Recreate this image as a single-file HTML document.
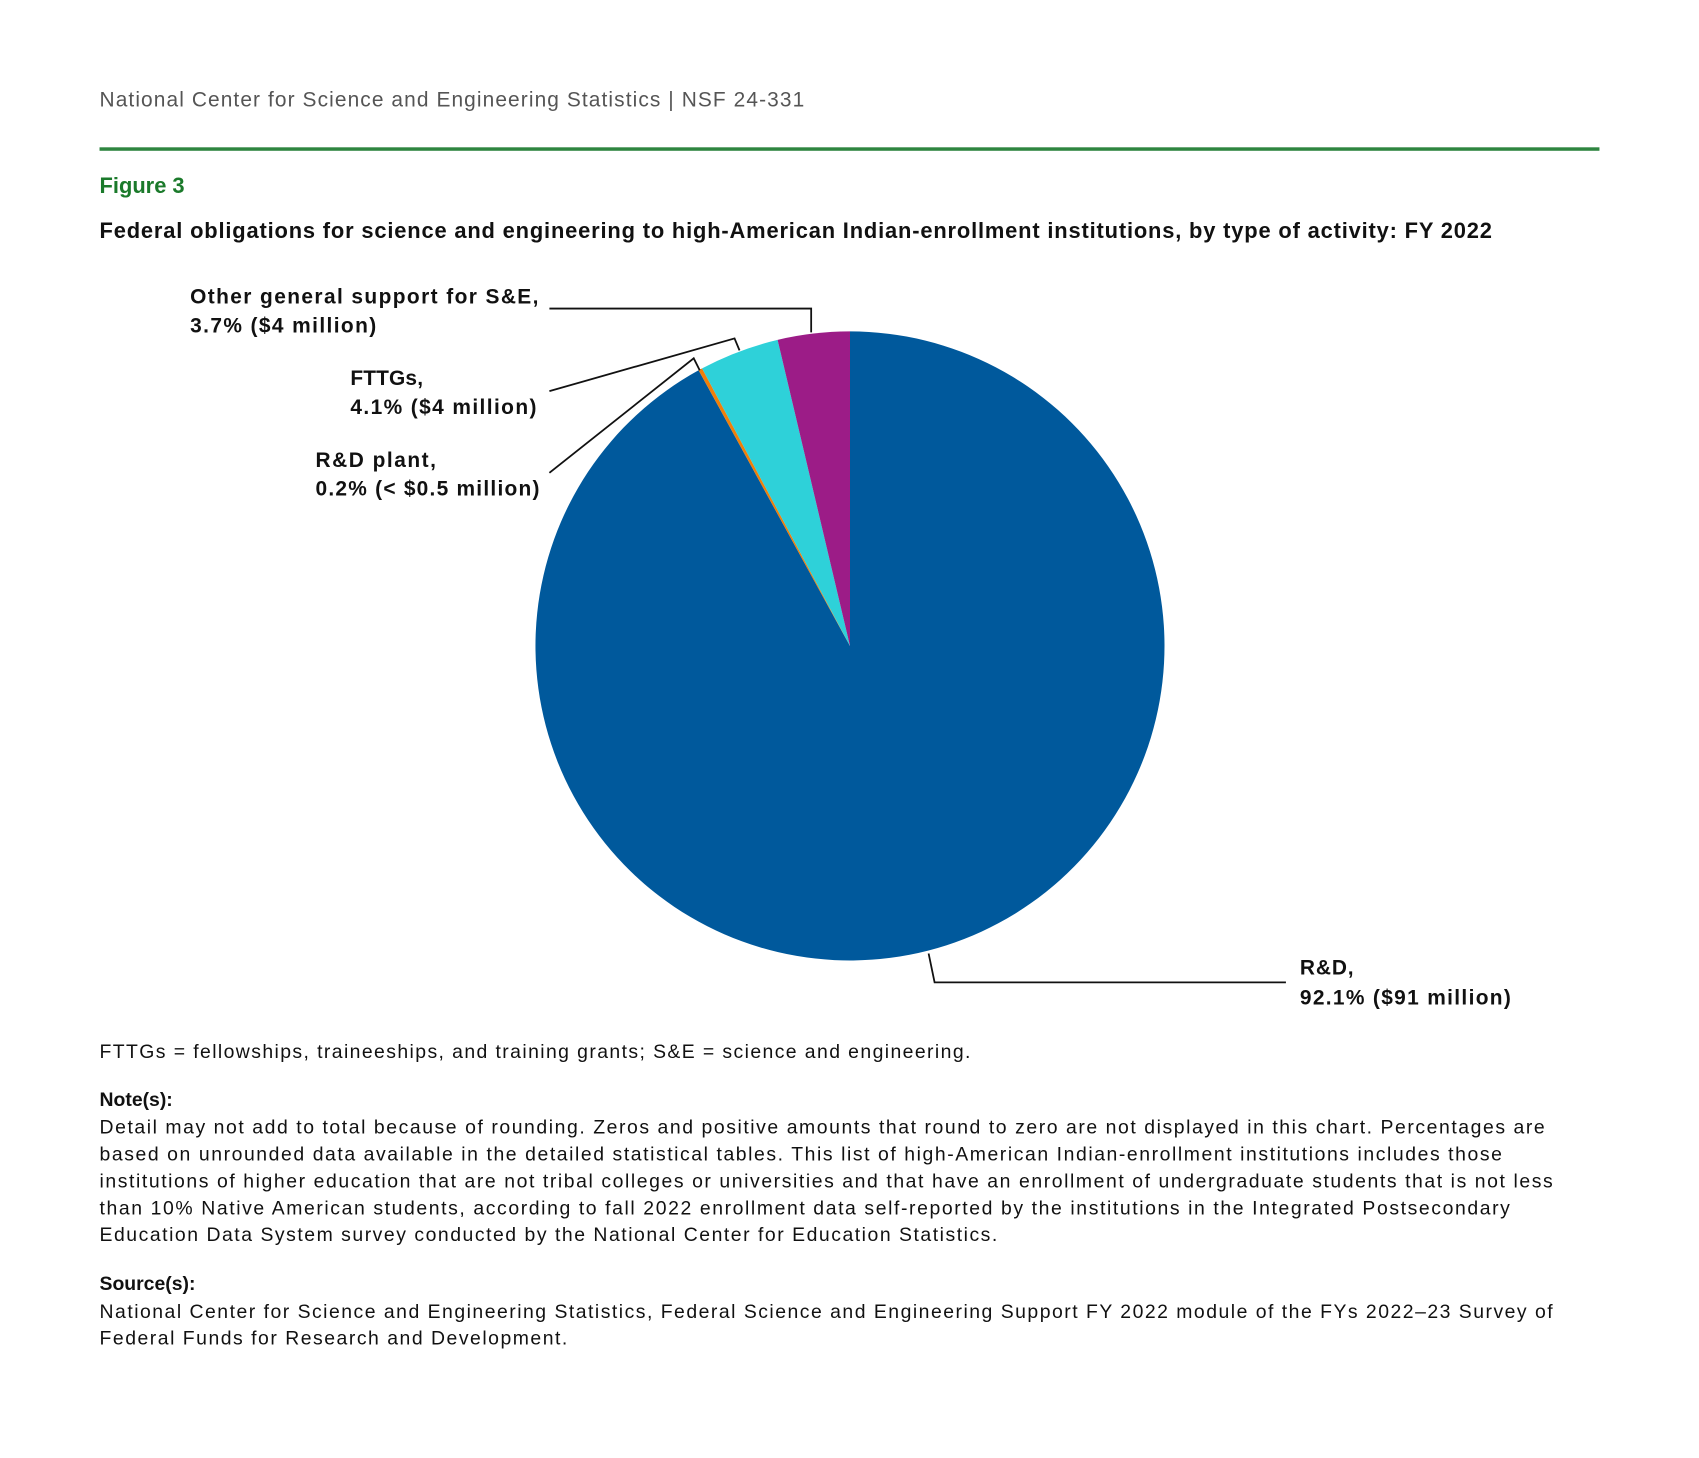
<!DOCTYPE html>
<html><head><meta charset="utf-8"><style>
html,body{margin:0;padding:0;background:#fff;}
svg{display:block;font-family:"Liberation Sans",Arial,sans-serif;}
</style></head><body>
<svg id="chart" width="1699" height="1458" viewBox="0 0 1699 1458">
<g transform="scale(0.9953)">
<text x="100" y="107" font-size="21" fill="#555" textLength="708">National Center for Science and Engineering Statistics  |  NSF 24-331</text>
<rect x="100" y="148" width="1507" height="3.5" fill="#2e8540"/>
<text x="100" y="194" font-size="22" font-weight="bold" fill="#1b7a2b">Figure 3</text>
<text x="100" y="239" font-size="22" font-weight="bold" fill="#111" textLength="1399">Federal obligations for science and engineering to high-American Indian-enrollment institutions, by type of activity: FY 2022</text>
<g id="pie"></g>
<g fill="none" stroke="#111" stroke-width="1.8">
<polyline points="552,310 815,310 815,334"/>
<polyline points="552,393 738,340 743,352"/>
<polyline points="552,475 697,360 703,372"/>
<polyline points="1292,987 939,987 933,958"/>
</g>
<g font-size="21" font-weight="bold" fill="#111">
<text x="191" y="305" textLength="350">Other general support for S&amp;E,</text>
<text x="191" y="334" textLength="187">3.7% ($4 million)</text>
<text x="352" y="387" textLength="73">FTTGs,</text>
<text x="352" y="416" textLength="187">4.1% ($4 million)</text>
<text x="317" y="469" textLength="121">R&amp;D plant,</text>
<text x="317" y="498" textLength="225">0.2% (&lt; $0.5 million)</text>
<text x="1306" y="979" textLength="54">R&amp;D,</text>
<text x="1306" y="1009" textLength="212">92.1% ($91 million)</text>
</g>
<g font-size="19.5" fill="#111">
<text x="100" y="1063" textLength="875">FTTGs = fellowships, traineeships, and training grants; S&amp;E = science and engineering.</text>
<text x="100" y="1111" font-weight="bold">Note(s):</text>
<text x="100" y="1139" textLength="1452">Detail may not add to total because of rounding. Zeros and positive amounts that round to zero are not displayed in this chart. Percentages are</text>
<text x="100" y="1166" textLength="1409">based on unrounded data available in the detailed statistical tables. This list of high-American Indian-enrollment institutions includes those</text>
<text x="100" y="1193" textLength="1460">institutions of higher education that are not tribal colleges or universities and that have an enrollment of undergraduate students that is not less</text>
<text x="100" y="1220" textLength="1417">than 10% Native American students, according to fall 2022 enrollment data self-reported by the institutions in the Integrated Postsecondary</text>
<text x="100" y="1247" textLength="902">Education Data System survey conducted by the National Center for Education Statistics.</text>
<text x="100" y="1296" font-weight="bold">Source(s):</text>
<text x="100" y="1324" textLength="1460">National Center for Science and Engineering Statistics, Federal Science and Engineering Support FY 2022 module of the FYs 2022–23 Survey of</text>
<text x="100" y="1351" textLength="470">Federal Funds for Research and Development.</text>
</g>
</g>
</svg>
<script>
const categories = ["R&D", "R&D plant", "FTTGs", "Other general support for S&E"];
const values = [92.1, 0.2, 4.1, 3.7];
const colors = ["#00599c", "#f07f09", "#2ed1d9", "#9c1c87"];
const slugs = ["slice-rd", "slice-rd-plant", "slice-fttgs", "slice-other"];
const cx = 854, cy = 649, r = 316;
const total = values.reduce((a, b) => a + b, 0);
function angleAt(v) { return v / total * 2 * Math.PI; }
function pt(a) { return [cx + r * Math.sin(a), cy - r * Math.cos(a)]; }
const g = document.getElementById('pie');
let acc = 0;
values.forEach((v, i) => {
  const a0 = angleAt(acc), a1 = angleAt(acc + v);
  acc += v;
  const p0 = pt(a0), p1 = pt(a1);
  const large = (a1 - a0) > Math.PI ? 1 : 0;
  const path = document.createElementNS('http://www.w3.org/2000/svg', 'path');
  path.setAttribute('d', `M${cx},${cy} L${p0[0]},${p0[1]} A${r},${r} 0 ${large} 1 ${p1[0]},${p1[1]} Z`);
  path.setAttribute('fill', colors[i]);
  
  
  g.appendChild(path);
});
</script>
</body></html>
